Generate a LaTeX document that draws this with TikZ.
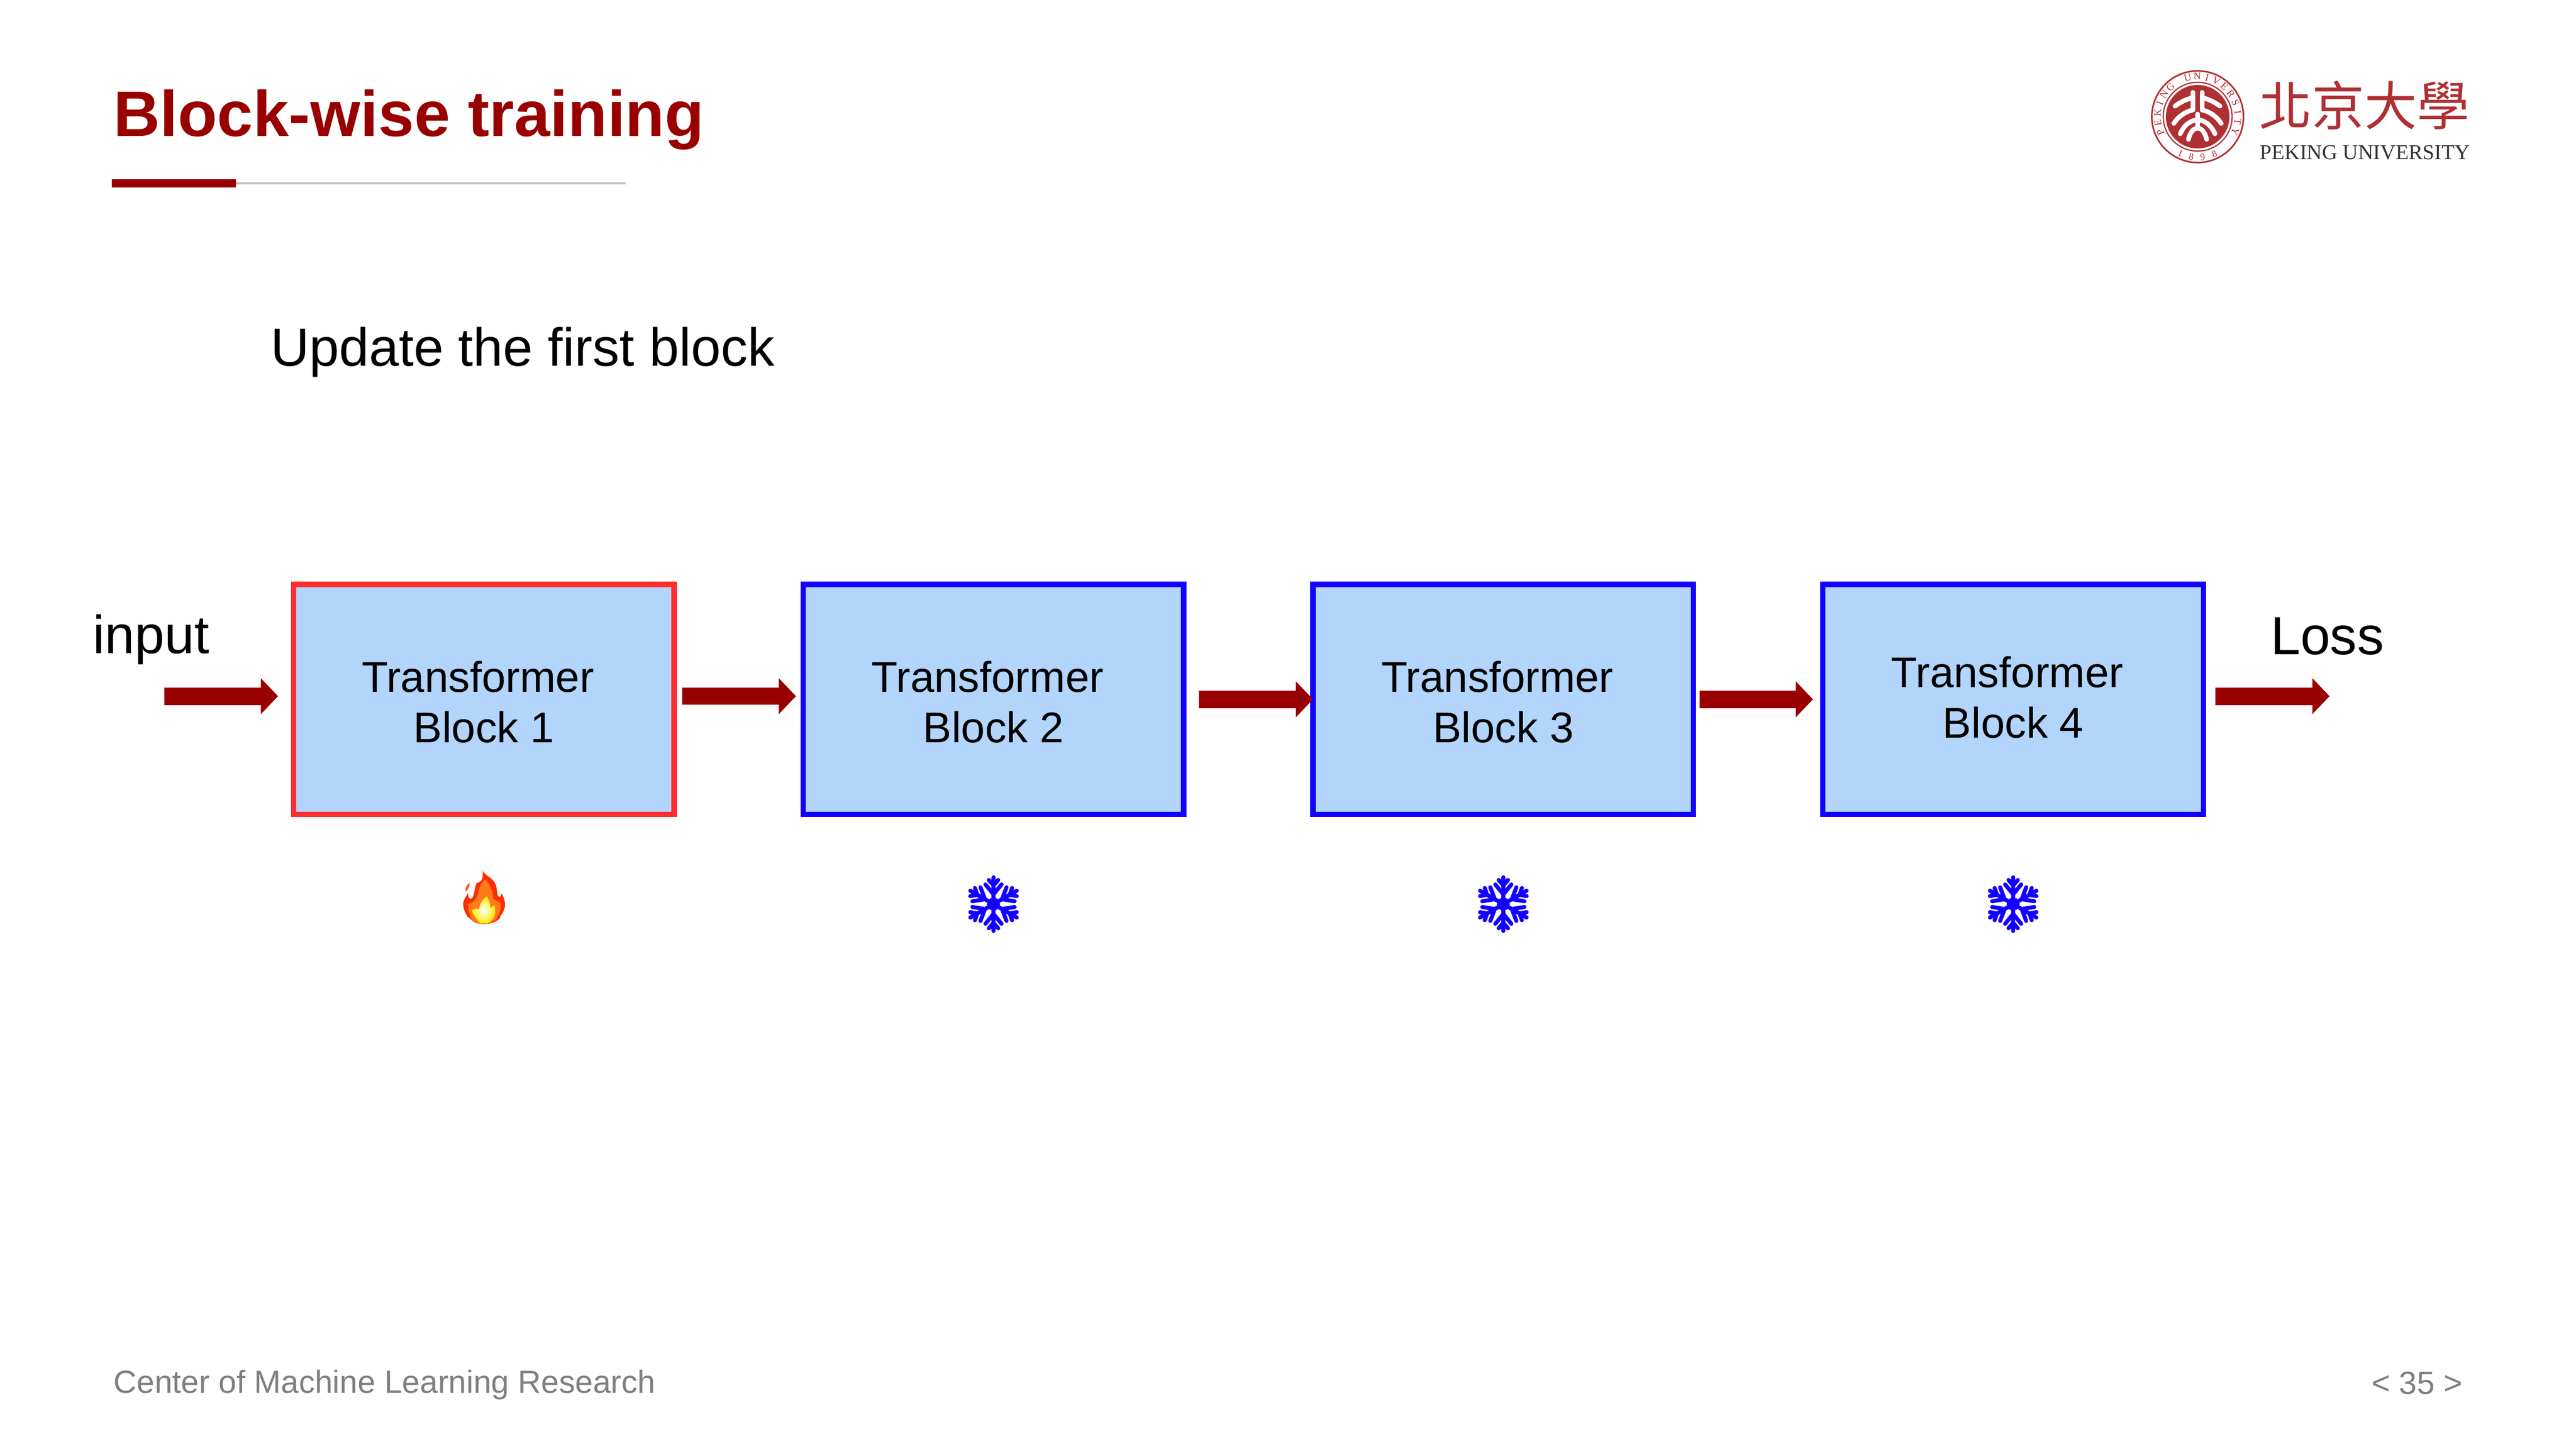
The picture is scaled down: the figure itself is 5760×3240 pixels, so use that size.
\documentclass[tikz,border=0pt]{standalone}
\usepackage{fontspec}
\setmainfont{Liberation Sans}
\newfontfamily\logoserif{Liberation Serif}
\newfontfamily\logocjk{Noto Sans CJK TC}
\usetikzlibrary{arrows.meta}
\definecolor{pkured}{HTML}{990000}
\definecolor{sealred}{HTML}{AE3034}
\definecolor{blockfill}{HTML}{B3D4FB}
\definecolor{blockred}{HTML}{FF2D30}
\definecolor{blockblue}{HTML}{1400FF}
\definecolor{footgray}{HTML}{7F7F7F}
\tikzstyle{block}=[rectangle, draw, fill=blockfill, line width=2pt, inner sep=0pt, outer sep=0pt,
    minimum width=141.8pt, minimum height=85.7pt, align=center, text height=32.2pt,
    font=\fontsize{16}{18.83}\selectfont]
\tikzstyle{flow}=[pkured, line width=6.5pt, -{Triangle[length=6.4pt, width=13pt]}]
\tikzstyle{plain}=[anchor=base west, inner sep=0pt, outer sep=0pt]
\tikzstyle{bigtext}=[plain, font=\fontsize{20}{24}\selectfont]
\tikzstyle{foot}=[plain, text=footgray, font=\fontsize{11.95}{14}\selectfont]
\tikzstyle{sealchar}=[inner sep=0pt, text=sealred]
\tikzstyle{sealstroke}=[white, line width=1.75pt, line cap=round]
\tikzset{
    flake/.pic={
        \fill (0:15) -- (60:15) -- (120:15) -- (180:15) -- (240:15) -- (300:15) -- cycle;
        \foreach \a in {0,60,...,300} {
            \draw[rotate=\a, blockblue, line width=1.5pt, line cap=round]
                (0,0) -- (0,-60)
                (0,-42) -- (-10.5,-54) (0,-42) -- (10.5,-54)
                (0,-22) -- (-18,-44) (0,-22) -- (18,-44);
        }
    }
}

\begin{document}
\begin{tikzpicture}[x=1pt/6, y=-1pt/6]
    \useasboundingbox (0,0) rectangle (5760,3240);

    % title and rule
    \node[plain, text=pkured, font=\fontsize{24}{28}\bfseries\selectfont] (title) at (254,305) {Block-wise training};
    \fill[white!75!black] (528,408) rectangle (1399,412);
    \fill[pkured] (250,401) rectangle (528,419);
    \node[bigtext] (update) at (605,818) {Update the first block};

    % blocks
    \node[block, draw=blockred] (b1) at (1082,1564) {Transformer\ \null\\Block 1};
    \node[block, draw=blockblue] (b2) at (2221.5,1564) {Transformer\ \null\\Block 2};
    \node[block, draw=blockblue] (b3) at (3361.5,1564) {Transformer\ \null\\Block 3};
    \node[block, draw=blockblue, text depth=3.3pt] (b4) at (4501.5,1564) {Transformer\ \null\\Block 4};

    \node[bigtext] (input) at (208,1461) {input};
    \node[bigtext] (loss) at (5077,1464) {Loss};
    \coordinate (in) at (367,1557);
    \coordinate (out) at (5209,1557);

    % connectors
    \draw[flow, shorten >=5.8pt] (in) -- (in -| b1.west);
    \draw[flow, shorten <=3pt, shorten >=2.7pt] ([yshift=1.17pt]b1.east) -- ([yshift=1.17pt]b2.west);
    \draw[flow, shorten <=5.7pt] (b2.east) -- (b3.west);
    \draw[flow, shorten <=2.2pt, shorten >=3.7pt] (b3.east) -- (b4.west);
    \draw[flow, shorten <=4.5pt] (out -| b4.east) -- (out);

    % flame
    \begin{scope}[shift={(1020,1930)}, scale=1/3]
        \fill[red!65!orange] (176,50) .. controls (185,75) and (228,92) .. (252,122)
            .. controls (282,160) and (268,212) .. (285,226)
            .. controls (295,232) and (303,220) .. (305,202)
            .. controls (322,235) and (330,265) .. (327,290)
            .. controls (322,325) and (305,345) .. (290,365) -- (300,362)
            .. controls (280,390) and (240,410) .. (185,410)
            .. controls (135,410) and (105,390) .. (85,365) -- (62,352) -- (75,355)
            .. controls (55,330) and (45,290) .. (47,270)
            .. controls (50,245) and (68,225) .. (78,202)
            .. controls (80,235) and (95,250) .. (108,235)
            .. controls (125,205) and (125,155) .. (138,135)
            .. controls (150,130) and (170,125) .. (175,105)
            .. controls (180,85) and (178,65) .. (176,50) -- cycle;
        \fill[red!55!orange!85!white] (90,132) .. controls (70,145) and (60,170) .. (63,193)
            .. controls (80,180) and (92,160) .. (90,132) -- cycle;
        \fill[orange!85!red!90!white] (195,110) .. controls (225,135) and (245,190) .. (250,240)
            .. controls (265,255) and (295,255) .. (298,280)
            .. controls (300,320) and (285,355) .. (265,380)
            .. controls (240,400) and (215,405) .. (185,407)
            .. controls (150,407) and (120,395) .. (105,380)
            .. controls (90,350) and (78,310) .. (80,275)
            .. controls (100,275) and (125,255) .. (140,225)
            .. controls (150,190) and (160,135) .. (195,110) -- cycle;
        \shade[inner color=white, outer color=yellow!85!orange] (205,225)
            .. controls (222,250) and (228,280) .. (232,300)
            .. controls (242,295) and (250,290) .. (255,280)
            .. controls (265,310) and (262,350) .. (250,370)
            .. controls (235,390) and (220,400) .. (210,407) -- (165,407)
            .. controls (145,390) and (115,350) .. (105,320)
            .. controls (120,300) and (140,305) .. (155,310)
            .. controls (155,280) and (175,245) .. (205,225) -- cycle;
    \end{scope}

    % snowflakes
    \pic[blockblue] at (2221.5,2022) {flake};
    \pic[blockblue] at (3361.5,2022) {flake};
    \pic[blockblue] at (4501.5,2022) {flake};

    % seal
    \begin{scope}[shift={(4914,261)}, yscale=-1]
        \draw[sealred, line width=0.6pt] (0,0) circle (102.5);
        \draw[sealred, line width=0.45pt] (0,0) circle (77);
        \fill[sealred] (0,0) circle (71);
        \foreach \ch/\i in {P/0,E/1,K/2,I/3,N/4,G/5,U/7,N/8,I/9,V/10,E/11,R/12,S/13,I/14,T/15,Y/16} {
            \node[sealchar, rotate={112.5-14*\i}, font=\logoserif\fontsize{3.8}{5}\selectfont] (seal\i) at ({202.5-14*\i}:90) {\ch};
        }
        \foreach \ch/\a in {1/245,8/261,9/277,8/294} {
            \node[sealchar, rotate=\a+90, font=\logoserif\fontsize{3.6}{4}\selectfont] (year\a) at (\a:91) {\ch};
        }
    \end{scope}
    \begin{scope}[shift={(4810,140)}, scale=1/3]
        \draw[sealstroke] (280,200) -- (280,318) (342,200) -- (342,318);
        \draw[sealstroke] (160,292) .. controls (190,270) and (225,250) .. (270,238);
        \draw[sealstroke] (462,292) .. controls (432,270) and (397,250) .. (352,238);
        \draw[sealstroke] (152,408) .. controls (180,365) and (225,330) .. (280,318);
        \draw[sealstroke] (470,408) .. controls (442,365) and (397,330) .. (342,318);
        \draw[sealstroke] (312,345) -- (312,435);
        \draw[sealstroke] (195,478) .. controls (215,430) and (250,395) .. (300,385);
        \draw[sealstroke] (428,478) .. controls (408,430) and (373,395) .. (324,385);
        \draw[sealstroke] (250,515) .. controls (262,465) and (285,440) .. (312,440)
            .. controls (339,440) and (360,465) .. (372,515);
    \end{scope}

    % wordmark
    \node[plain, text=sealred, font=\logocjk\fontsize{19.6}{22}\selectfont] (hanzi) at (5052,281) {北京大學};
    \node[plain, text=black!80, font=\logoserif\fontsize{7.9}{9}\selectfont] (pku) at (5053,357) {PEKING UNIVERSITY};

    % footer
    \node[foot] (center) at (254,3115) {Center of Machine Learning Research};
    \node[foot] (page) at (5303,3118) {< 35 >};
\end{tikzpicture}
\end{document}
